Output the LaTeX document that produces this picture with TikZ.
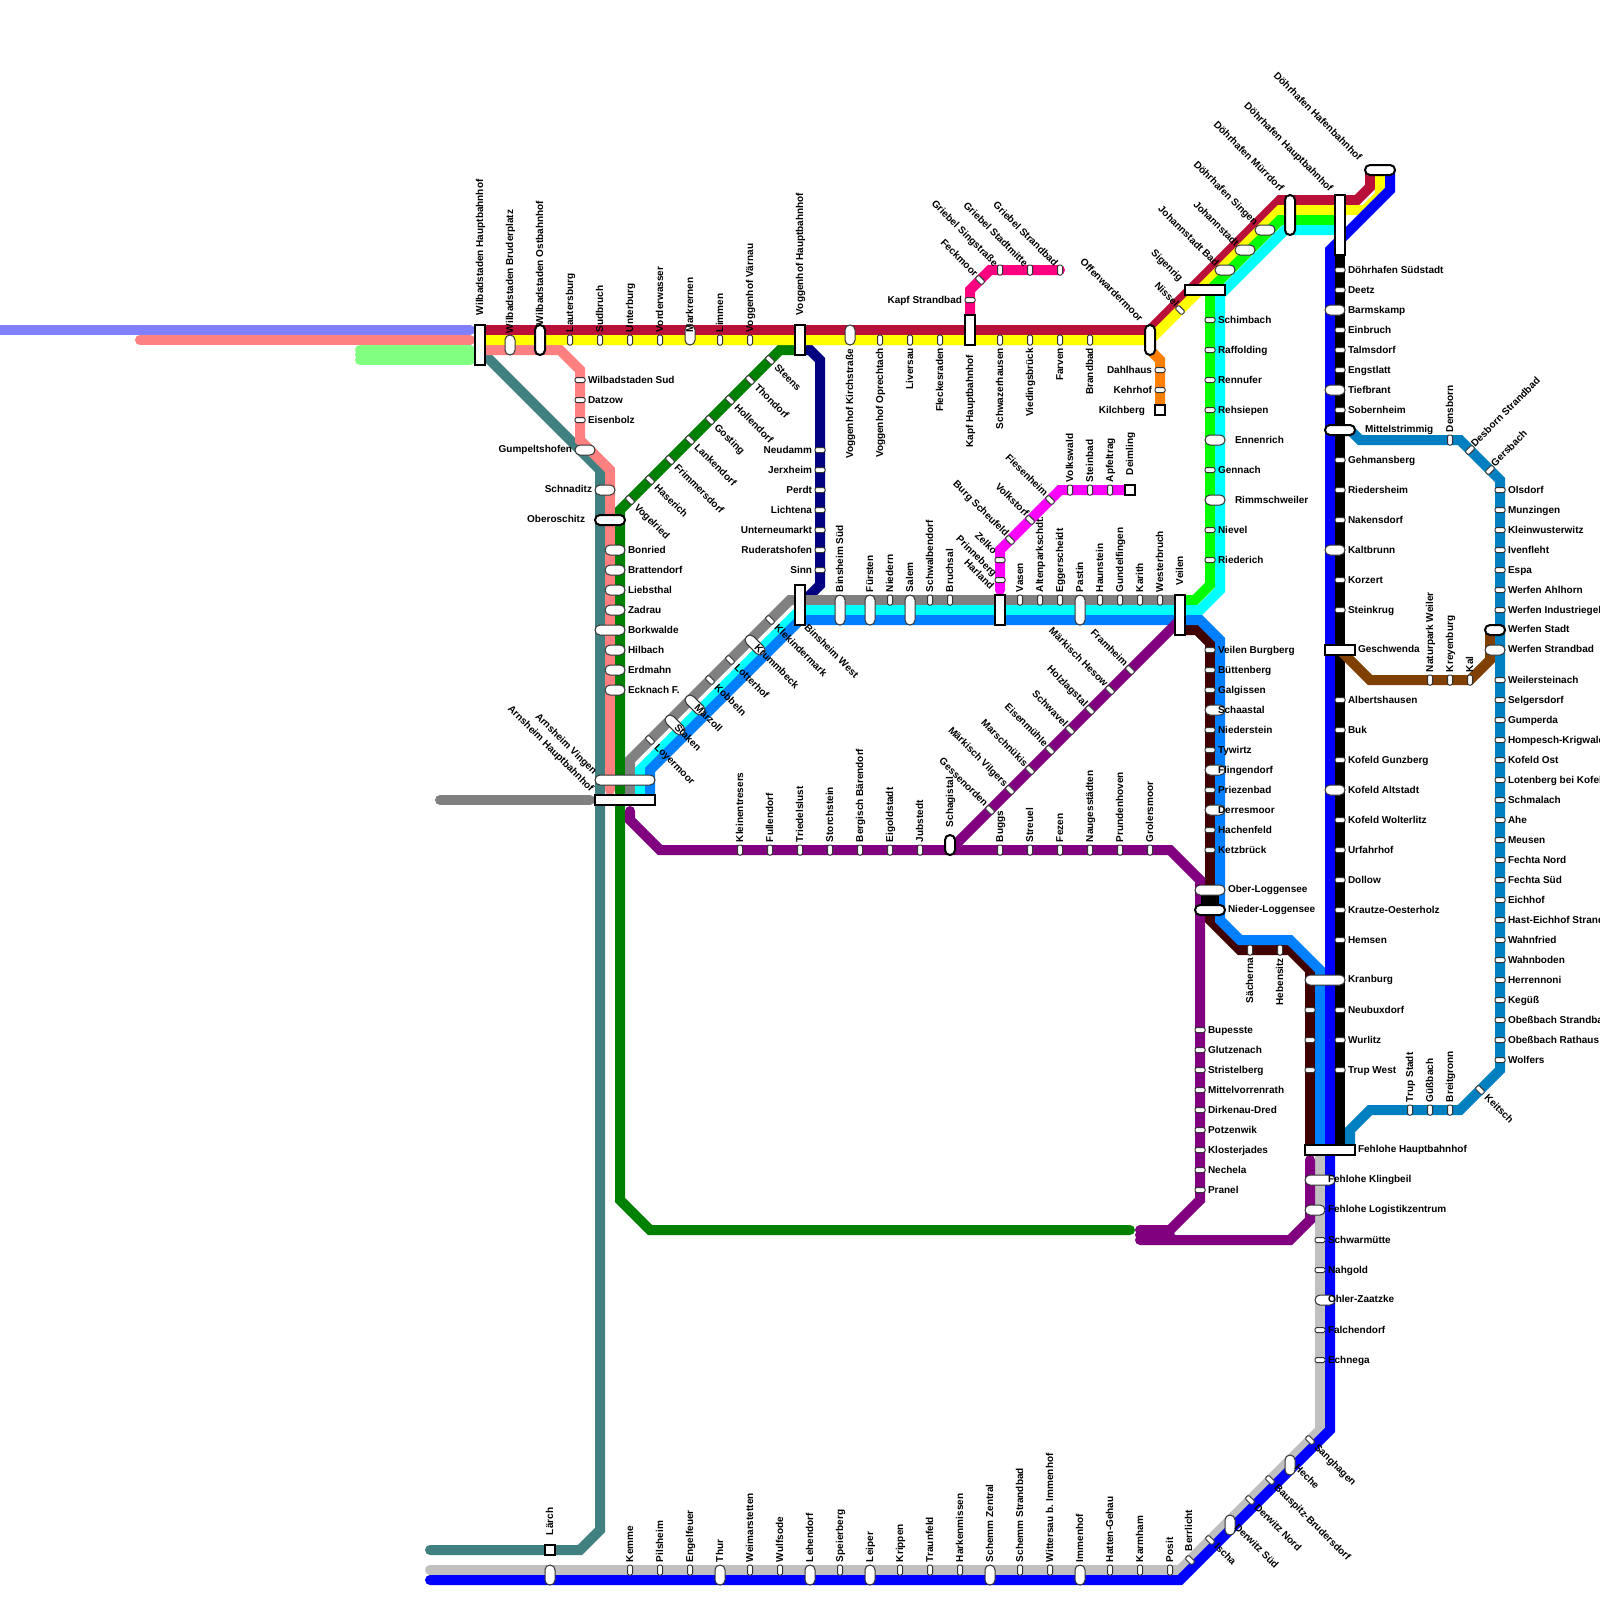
\documentclass[tikz,border=0pt]{standalone}
\usepackage{fontspec}
\setmainfont{Liberation Sans}
\definecolor{cRed}{HTML}{B81038}
\definecolor{cTeal}{HTML}{408080}
\definecolor{cPink}{HTML}{FF8080}
\definecolor{cLBlue}{HTML}{8080FF}
\definecolor{cLGreen}{HTML}{80FF80}
\definecolor{cDGreen}{HTML}{008000}
\definecolor{cNavy}{HTML}{000080}
\definecolor{cGray}{HTML}{808080}
\definecolor{cAzure}{HTML}{0080FF}
\definecolor{cSilver}{HTML}{C0C0C0}
\definecolor{cPurple}{HTML}{800080}
\definecolor{cMaroon}{HTML}{400000}
\definecolor{cSteel}{HTML}{0080C0}
\definecolor{cBrown}{HTML}{804000}
\definecolor{cOrange}{HTML}{FF8000}
\definecolor{cHot}{HTML}{FF0080}
\definecolor{cCyan}{HTML}{00FFFF}
\definecolor{cMag}{HTML}{FF00FF}
\definecolor{cYellow}{HTML}{FFFF00}
\definecolor{cLime}{HTML}{00FF00}
\definecolor{cBlue}{HTML}{0000FF}
\tikzset{
  ln/.style={line width=10pt,line cap=round,line join=miter,draw=#1},
  stbase/.style={shape=rectangle,fill=white,inner sep=0pt,outer sep=0pt},
  stlight/.style={stbase,draw=black!80,line width=1pt},
  stheavy/.style={stbase,draw=black,line width=2pt},
  tickV/.style={stlight,minimum width=5pt,minimum height=10pt,rounded corners=1.5pt},
  tickH/.style={stlight,minimum width=10pt,minimum height=5pt,rounded corners=1.5pt},
  tickD/.style={stlight,minimum width=9.5pt,minimum height=5pt,rounded corners=1.5pt,rotate=-45},
  tickU/.style={stlight,minimum width=9.5pt,minimum height=5pt,rounded corners=1.5pt,rotate=45},
  pill/.style 2 args={stlight,minimum width=#1pt,minimum height=#2pt,rounded corners=4.9pt},
  pillD/.style={stlight,minimum width=24pt,minimum height=10pt,rounded corners=4.9pt,rotate=-45},
  hpill/.style 2 args={stheavy,minimum width=#1pt,minimum height=#2pt,rounded corners=4.9pt},
  hrect/.style 2 args={stheavy,minimum width=#1pt,minimum height=#2pt},
  lab/.style={inner sep=0pt,outer sep=0pt,font=\fontsize{10}{10}\selectfont\bfseries,text height=6pt,text depth=0pt,text=black},
  labU/.style={lab,rotate=90,anchor=west},
  labD/.style={lab,rotate=90,anchor=east},
  labR/.style={lab,anchor=west},
  labL/.style={lab,anchor=east},
  labDR/.style={lab,rotate=-45,anchor=west,xshift=1.5pt},
  labUL/.style={lab,rotate=-45,anchor=east},
  labUR/.style={lab,rotate=45,anchor=west},
}
\newcounter{stc}
\newcommand{\labelqueue}{}
\newcommand{\stn}[7]{%
  \stepcounter{stc}%
  \node[#3] (s\arabic{stc}) at (#1,#2) {};
  \edef\labeltmp{\noexpand\node[#6] (l\arabic{stc}) at (#4,#5) {#7};}%
  \xdef\labelqueue{\unexpanded\expandafter{\labelqueue}\unexpanded\expandafter{\labeltmp}}%
}
\begin{document}
\begin{tikzpicture}[x=1pt,y=-1pt]
\useasboundingbox (0,0) rectangle (1600,1600);
\fill[white] (0,0) rectangle (1600,1600);
% ---- lines, lowest first
\draw[ln=cLBlue] (-10,330) -- (470,330);
\draw[ln=cPink] (140,340) -- (470,340);
\draw[ln=cLGreen] (360,350) -- (470,350);
\draw[ln=cLGreen] (360,360) -- (470,360);
\draw[ln=cLGreen] (360,355) -- (470,355);
\draw[ln=cTeal] (430,1550) -- (580,1550) -- (600,1530) -- (600,470) -- (480,350);
\draw[ln=cPink] (480,350) -- (560,350) -- (580,370) -- (580,440) -- (610,470) -- (610,790);
\draw[ln=cDGreen] (800,350) -- (780,350) -- (620,510) -- (620,1200) -- (650,1230) -- (1130,1230);
\draw[ln=cNavy] (800,350) -- (810,350) -- (820,360) -- (820,585) -- (805,600) -- (800,600);
\draw[ln=cGray] (440,800) -- (590,800);
\draw[ln=cGray] (630,800) -- (630,760) -- (790,600) -- (1180,600);
\draw[ln=cRed] (480,330) -- (1150,330) -- (1280,200) -- (1357,200) -- (1370,187) -- (1370,170);
\draw[ln=cYellow] (480,340) -- (1150,340) -- (1280,210) -- (1365,210) -- (1380,195) -- (1380,170);
\draw[ln=cLime] (1180,600) -- (1195,600) -- (1210,585) -- (1210,290) -- (1280,220) -- (1340,220);
\draw[ln=cCyan] (640,800) -- (640,770) -- (800,610) -- (1200,610) -- (1220,590) -- (1220,295) -- (1285,230) -- (1340,230);
\draw[ln=cMaroon] (1180,630) -- (1197,630) -- (1210,643) -- (1210,920) -- (1240,950) -- (1290,950) -- (1310,970) -- (1310,1150);
\draw[ln=cAzure] (650,800) -- (650,770) -- (800,620) -- (1200,620) -- (1220,640) -- (1220,920) -- (1240,940) -- (1290,940) -- (1320,970) -- (1320,1150);
\draw[ln=cSilver] (430,1570) -- (1180,1570) -- (1320,1430) -- (1320,1150);
\draw[ln=cBlue] (430,1580) -- (1180,1580) -- (1330,1430) -- (1330,250) -- (1390,190) -- (1390,170);
\draw[ln=black] (1340,230) -- (1340,1150);
\draw[ln=cPurple] (630,811) -- (630,820) -- (660,850) -- (1170,850) -- (1200,880) -- (1200,1200) -- (1170,1230) -- (1140,1230);
\draw[ln=cPurple] (1180,620) -- (950,850);
\draw[ln=cPurple] (1140,1240) -- (1290,1240) -- (1310,1220) -- (1310,1160);
\draw[ln=cPurple] (1140,1235) -- (1170,1235);
\draw[ln=cOrange] (1150,350) -- (1160,360) -- (1160,410);
\draw[ln=cHot] (970,320) -- (970,290) -- (990,270) -- (1060,270);
\draw[ln=cMag] (1000,590) -- (1000,550) -- (1060,490) -- (1130,490);
\draw[ln=cBrown] (1340,650) -- (1370,680) -- (1470,680) -- (1490,660) -- (1490,630);
\draw[ln=cSteel] (1350,430) -- (1360,440) -- (1460,440) -- (1500,480) -- (1500,1070) -- (1460,1110) -- (1370,1110) -- (1350,1130) -- (1350,1150);
% ---- Ober / Nieder-Loggensee link
\coordinate (ober) at (1210,890);
\coordinate (nieder) at (1210,910);
\draw[line width=18pt,black] (ober) -- (nieder);
% ---- stations: top row
\stn{480}{345}{hrect={10}{40}}{480}{315}{labU}{Wilbadstaden Hauptbahnhof}
\stn{510}{345}{pill={10}{20}}{510}{333}{labU}{Wilbadstaden Bruderplatz}
\stn{540}{340}{hpill={10}{30}}{540}{325}{labU}{Wilbadstaden Ostbahnhof}
\foreach \x/\t in {570/Lautersburg,600/Sudbruch,630/Unterburg,660/Vorderwasser,720/Limmen,750/Voggenhof Värnau}{
  \stn{\x}{340}{tickV}{\x}{332}{labU}{\t}
}
\stn{690}{335}{pill={10}{20}}{690}{332}{labU}{Markrernen}
\stn{800}{340}{hrect={10}{30}}{800}{315}{labU}{Voggenhof Hauptbahnhof}
\stn{850}{335}{pill={10}{20}}{850}{349}{labD}{Voggenhof Kirchstraße}
\foreach \x/\t in {880/Voggenhof Oprechtach,910/Liversau,940/Fleckesraden}{
  \stn{\x}{340}{tickV}{\x}{348}{labD}{\t}
}
\stn{970}{330}{hrect={10}{30}}{970}{355}{labD}{Kapf Hauptbahnhof}
\foreach \x/\t in {1000/Schwazerhausen,1030/Viedingsbrück,1060/Farven,1090/Brandbad}{
  \stn{\x}{340}{tickV}{\x}{348}{labD}{\t}
}
% Griebel branch
\stn{970}{300}{tickH}{962}{300}{labL}{Kapf Strandbad}
\stn{980}{280}{tickD}{976}{275}{labUL}{Feckmoor}
\foreach \x/\t in {1000/Griebel Singstraße,1030/Griebel Stadtmitte,1060/Griebel Strandbad}{
  \stn{\x}{270}{tickV}{\x-4}{265}{labUL}{\t}
}
% Offenwardermoor and branch
\stn{1150}{340}{hpill={10}{30}}{1141}{320}{labUL}{Offenwardermoor}
\stn{1160}{370}{tickH}{1152}{370}{labL}{Dahlhaus}
\stn{1160}{390}{tickH}{1152}{390}{labL}{Kehrhof}
\stn{1160}{410}{hrect={10}{10}}{1145}{410}{labL}{Kilchberg}
% diagonal to Dohrhafen
\stn{1180}{310}{tickD}{1177}{305}{labUL}{Nissel}
\stn{1205}{290}{hrect={40}{10}}{1181}{280}{labUL}{Sigenrig}
\stn{1225}{270}{pill={20}{10}}{1217}{265}{labUL}{Johannstadt Bad}
\stn{1245}{250}{pill={20}{10}}{1237}{245}{labUL}{Johannstadt}
\stn{1265}{230}{pill={20}{10}}{1256}{224}{labUL}{Döhrhafen Singen}
\stn{1290}{215}{hpill={10}{40}}{1282}{190}{labUL}{Döhrhafen Mürrdorf}
\stn{1340}{225}{hrect={10}{60}}{1331}{190}{labUL}{Döhrhafen Hauptbahnhof}
\stn{1380}{170}{hpill={30}{10}}{1360}{159}{labUL}{Döhrhafen Hafenbahnhof}
% x = 1210 column
\foreach \y/\t in {320/Schimbach,350/Raffolding,380/Rennufer,410/Rehsiepen,470/Gennach,530/Nievel,560/Riederich}{
  \stn{1210}{\y}{tickH}{1218}{\y}{labR}{\t}
}
\stn{1215}{440}{pill={20}{10}}{1235}{440}{labR}{Ennenrich}
\stn{1215}{500}{pill={20}{10}}{1235}{500}{labR}{Rimmschweiler}
% x = 580 pink
\foreach \y/\t in {380/Wilbadstaden Sud,400/Datzow,420/Eisenbolz}{
  \stn{580}{\y}{tickH}{588}{\y}{labR}{\t}
}
\stn{585}{450}{pill={20}{10}}{572}{449}{labL}{Gumpeltshofen}
\stn{605}{490}{pill={20}{10}}{592}{489}{labL}{Schnaditz}
\stn{610}{520}{hpill={30}{10}}{585}{519}{labL}{Oberoschitz}
\foreach \y/\t in {550/Bonried,570/Brattendorf,590/Liebsthal,610/Zadrau,650/Hilbach,670/Erdmahn,690/Ecknach F.}{
  \stn{615}{\y}{pill={20}{10}}{628}{\y}{labR}{\t}
}
\stn{610}{630}{pill={30}{10}}{628}{630}{labR}{Borkwalde}
\stn{625}{780}{pill={60}{10}}{595}{773}{labUL}{Arnsheim Vingen}
\stn{625}{800}{hrect={60}{10}}{592}{790}{labUL}{Arnsheim Hauptbahnhof}
% dark green diagonal
\foreach \x/\y/\t in {770/360/Steens,750/380/Thondorf,730/400/Hollendorf,710/420/Gosting,690/440/Lankendorf,670/460/Frimmersdorf,650/480/Haserich,630/500/Vogelried}{
  \stn{\x}{\y}{tickD}{\x+5}{\y+5}{labDR}{\t}
}
% navy
\foreach \y/\t in {450/Neudamm,470/Jerxheim,490/Perdt,510/Lichtena,530/Unterneumarkt,550/Ruderatshofen,570/Sinn}{
  \stn{820}{\y}{tickH}{812}{\y}{labL}{\t}
}
% grey diagonal
\stn{800}{605}{hrect={10}{40}}{805}{625}{labDR}{Binsheim West}
\foreach \x/\y/\t in {770/620/Klekindermark,730/660/Lotterhof,710/680/Kobbeln,650/740/Loyermoor}{
  \stn{\x}{\y}{tickD}{\x+5}{\y+5}{labDR}{\t}
}
\stn{755}{645}{pillD}{755}{645}{labDR}{Krummbeck}
\stn{695}{705}{pillD}{695}{705}{labDR}{Märzoll}
\stn{675}{725}{pillD}{675}{725}{labDR}{Staken}
% row y = 600
\foreach \x/\t in {840/Binsheim Süd,870/Fürsten,910/Salem,1080/Pastin}{
  \stn{\x}{610}{pill={10}{30}}{\x}{592}{labU}{\t}
}
\foreach \x/\t in {890/Niedern,930/Schwalbendorf,950/Bruchsal,1020/Vasen,1040/Altenparkschdt.,1060/Eggerscheidt,1100/Haunstein,1120/Gundelfingen,1140/Karith,1160/Westerbruch}{
  \stn{\x}{600}{tickV}{\x}{592}{labU}{\t}
}
\stn{1000}{610}{hrect={10}{30}}{992}{588}{labUL}{Harland}
\stn{1180}{615}{hrect={10}{40}}{1180}{585}{labU}{Veilen}
% magenta
\stn{1000}{580}{tickH}{995}{575}{labUL}{Prinneberg}
\stn{1000}{560}{tickH}{995}{553}{labUL}{Zelko}
\stn{1010}{540}{tickD}{1007}{535}{labUL}{Burg Scheufeld}
\stn{1030}{520}{tickD}{1027}{515}{labUL}{Volkstorf}
\stn{1050}{500}{tickD}{1046}{495}{labUL}{Fiesenheim}
\foreach \x/\t in {1070/Volkswald,1090/Steinbad,1110/Apfeltrag}{
  \stn{\x}{490}{tickV}{\x}{482}{labU}{\t}
}
\stn{1130}{490}{hrect={10}{10}}{1130}{475}{labU}{Deimling}
% purple row
\foreach \x/\t in {740/Kleinentresers,770/Fullendorf,800/Triedelslust,830/Storchstein,860/Bergisch Bärendorf,890/Eigoldstadt,920/Jubstedt,1000/Buggs,1030/Streuel,1060/Fezen,1090/Naugesstädten,1120/Prundenhoven,1150/Grolersmoor}{
  \stn{\x}{850}{tickV}{\x}{842}{labU}{\t}
}
\stn{950}{845}{hpill={10}{20}}{950}{827}{labU}{Schagistal}
\foreach \x/\y/\t in {990/810/Gessenorden,1010/790/Märkisch Vilgers,1030/770/Marschnükis,1050/750/Eisenmühle,1070/730/Schwavel,1090/710/Holzlagstal,1110/690/Märkisch Hesow,1130/670/Framheim}{
  \stn{\x}{\y}{tickD}{\x-4}{\y-5}{labUL}{\t}
}
\foreach \y/\t in {1030/Bupesste,1050/Glutzenach,1070/Stristelberg,1090/Mittelvorrenrath,1110/Dirkenau-Dred,1130/Potzenwik,1150/Klosterjades,1170/Nechela,1190/Pranel}{
  \stn{1200}{\y}{tickH}{1208}{\y}{labR}{\t}
}
% maroon column
\foreach \y/\t in {650/Veilen Burgberg,670/Büttenberg,690/Galgissen,730/Niederstein,750/Tywirtz,790/Priezenbad,830/Hachenfeld,850/Ketzbrück}{
  \stn{1210}{\y}{tickH}{1218}{\y}{labR}{\t}
}
\foreach \y/\t in {710/Schaastal,770/Flingendorf,810/Derresmoor}{
  \stn{1215}{\y}{pill={20}{10}}{1218}{\y}{labR}{\t}
}
\stn{1210}{890}{pill={30}{10}}{1228}{889}{labR}{Ober-Loggensee}
\stn{1210}{910}{hpill={30}{10}}{1228}{909}{labR}{Nieder-Loggensee}
\foreach \x/\t in {1250/Sächerna,1280/Hebensitz}{
  \stn{\x}{950}{tickV}{\x}{958}{labD}{\t}
}
% black column
\foreach \y/\t in {270/Döhrhafen Südstadt,290/Deetz,330/Einbruch,350/Talmsdorf,370/Engstlatt,410/Sobernheim,460/Gehmansberg,490/Riedersheim,520/Nakensdorf,580/Korzert,610/Steinkrug,700/Albertshausen,730/Buk,760/Kofeld Gunzberg,820/Kofeld Wolterlitz,850/Urfahrhof,880/Dollow,910/Krautze-Oesterholz,940/Hemsen}{
  \stn{1340}{\y}{tickH}{1348}{\y}{labR}{\t}
}
\foreach \y/\t in {310/Barmskamp,390/Tiefbrant,550/Kaltbrunn,790/Kofeld Altstadt}{
  \stn{1335}{\y}{pill={20}{10}}{1348}{\y}{labR}{\t}
}
\stn{1340}{430}{hpill={30}{10}}{1365}{429}{labR}{Mittelstrimmig}
\stn{1340}{650}{hrect={30}{10}}{1358}{649}{labR}{Geschwenda}
\stn{1325}{980}{pill={40}{10}}{1348}{979}{labR}{Kranburg}
\foreach \y/\t in {1010/Neubuxdorf,1040/Wurlitz,1070/Trup West}{
  \stn{1340}{\y}{tickH}{1348}{\y}{labR}{\t}
  \stepcounter{stc}\node[tickH] (s\arabic{stc}) at (1310,\y) {};
}
\stn{1330}{1150}{hrect={50}{10}}{1358}{1149}{labR}{Fehlohe Hauptbahnhof}
\stn{1320}{1180}{pill={30}{10}}{1328}{1179}{labR}{Fehlohe Klingbeil}
\stn{1315}{1210}{pill={20}{10}}{1328}{1209}{labR}{Fehlohe Logistikzentrum}
\foreach \y/\t in {1240/Schwarmütte,1270/Nahgold,1330/Falchendorf,1360/Echnega}{
  \stn{1320}{\y}{tickH}{1328}{\y}{labR}{\t}
}
\stn{1325}{1300}{pill={20}{10}}{1328}{1299}{labR}{Ohler-Zaatzke}
% steel line
\stn{1450}{440}{tickV}{1450}{432}{labU}{Densborn}
\stn{1470}{450}{tickU}{1473}{445}{labUR}{Desborn Strandbad}
\stn{1490}{470}{tickU}{1493}{465}{labUR}{Gersbach}
\foreach \y/\t in {490/Olsdorf,510/Munzingen,530/Kleinwusterwitz,550/Ivenfleht,570/Espa,590/Werfen Ahlhorn,610/Werfen Industriegebiet,680/Weilersteinach,700/Selgersdorf,720/Gumperda,740/Hompesch-Krigwald,760/Kofeld Ost,780/Lotenberg bei Kofeld,800/Schmalach,820/Ahe,840/Meusen,860/Fechta Nord,880/Fechta Süd,900/Eichhof,920/Hast-Eichhof Strand,940/Wahnfried,960/Wahnboden,980/Herrennoni,1000/Kegüß,1020/Obeßbach Strandbad,1040/Obeßbach Rathaus,1060/Wolfers}{
  \stn{1500}{\y}{tickH}{1508}{\y}{labR}{\t}
}
\stn{1495}{630}{hpill={20}{10}}{1508}{629}{labR}{Werfen Stadt}
\stn{1495}{650}{pill={20}{10}}{1508}{649}{labR}{Werfen Strandbad}
\foreach \x/\t in {1430/Naturpark Weiler,1450/Kreyenburg,1470/Kal}{
  \stn{\x}{680}{tickV}{\x}{672}{labU}{\t}
}
\foreach \x/\t in {1410/Trup Stadt,1430/Güßbach,1450/Breitgronn}{
  \stn{\x}{1110}{tickV}{\x}{1102}{labU}{\t}
}
\stn{1480}{1090}{tickD}{1485}{1095}{labDR}{Keitsch}
% bottom row
\stn{550}{1550}{hrect={10}{10}}{550}{1535}{labU}{Lärch}
\stepcounter{stc}\node[pill={10}{20}] (s\arabic{stc}) at (550,1575) {};
\foreach \x/\t in {630/Kemme,660/Pilsheim,690/Engelfeuer,750/Weimarstetten,780/Wulfsode,840/Speierberg,900/Krippen,930/Traunfeld,960/Harkenmissen,1020/Schemm Strandbad,1050/Wittersau b. Immenhof,1110/Hatten-Gehau,1140/Karmham,1170/Posit}{
  \stn{\x}{1570}{tickV}{\x}{1562}{labU}{\t}
}
\foreach \x/\t in {720/Thur,810/Lehendorf,870/Leiper,990/Schemm Zentral,1080/Immenhof}{
  \stn{\x}{1575}{pill={10}{20}}{\x}{1562}{labU}{\t}
}
\stn{1190}{1560}{tickD}{1189}{1551}{labU}{Berrlicht}
\stn{1210}{1540}{tickD}{1215}{1544}{labDR}{Ischa}
\stn{1230}{1525}{pill={10}{20}}{1235}{1525}{labDR}{Derwitz Süd}
\stn{1250}{1500}{tickD}{1255}{1505}{labDR}{Derwitz Nord}
\stn{1270}{1480}{tickD}{1275}{1485}{labDR}{Bauspitz-Brudersdorf}
\stn{1290}{1465}{pill={10}{20}}{1295}{1465}{labDR}{Heche}
\stn{1310}{1440}{tickD}{1315}{1445}{labDR}{Sanghagen}
% ---- all labels, above all stations
\labelqueue
\end{tikzpicture}
\end{document}
